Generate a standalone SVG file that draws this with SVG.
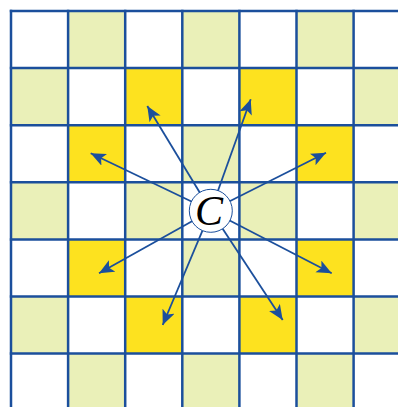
<svg xmlns="http://www.w3.org/2000/svg" width="398" height="407" viewBox="0 0 398 407">
<style>
.w{fill:#ffffff}
.g{fill:#eaf0b8}
.y{fill:#fde21f}
.grid line{stroke:#1b4f9c;stroke-width:2.5}
.arr{stroke:#1b4f9c;stroke-width:1.8;fill:none;marker-end:url(#ah)}
.ctext{font-family:"Liberation Serif",serif;font-style:italic;font-size:42px;fill:#000}
</style>
<defs>
<marker id="ah" markerUnits="userSpaceOnUse" markerWidth="18" markerHeight="14" refX="15" refY="6.5" orient="auto">
<path d="M0,0 L15,6.5 L0,13 L3.5,6.5 z" fill="#1b4f9c"/>
</marker>
</defs>
<rect width="398" height="407" fill="#ffffff"/>
<g id="cells">
<rect class="g" x="68.1" y="11" width="57.1" height="57.1"/>
<rect class="g" x="182.3" y="11" width="57.1" height="57.1"/>
<rect class="g" x="296.5" y="11" width="57.1" height="57.1"/>
<rect class="g" x="11" y="68.1" width="57.1" height="57.1"/>
<rect class="g" x="353.6" y="68.1" width="57.1" height="57.1"/>
<rect class="g" x="182.3" y="125.2" width="57.1" height="57.1"/>
<rect class="g" x="11" y="182.3" width="57.1" height="57.1"/>
<rect class="g" x="125.2" y="182.3" width="57.1" height="57.1"/>
<rect class="g" x="239.4" y="182.3" width="57.1" height="57.1"/>
<rect class="g" x="353.6" y="182.3" width="57.1" height="57.1"/>
<rect class="g" x="182.3" y="239.4" width="57.1" height="57.1"/>
<rect class="g" x="11" y="296.5" width="57.1" height="57.1"/>
<rect class="g" x="353.6" y="296.5" width="57.1" height="57.1"/>
<rect class="g" x="68.1" y="353.6" width="57.1" height="57.1"/>
<rect class="g" x="182.3" y="353.6" width="57.1" height="57.1"/>
<rect class="g" x="296.5" y="353.6" width="57.1" height="57.1"/>
</g>
<g id="knight-squares">
<rect id="k1" class="y" x="125.2" y="68.1" width="57.1" height="57.1"/>
<rect id="k2" class="y" x="239.4" y="68.1" width="57.1" height="57.1"/>
<rect id="k3" class="y" x="68.1" y="125.2" width="57.1" height="57.1"/>
<rect id="k4" class="y" x="296.5" y="125.2" width="57.1" height="57.1"/>
<rect id="k5" class="y" x="68.1" y="239.4" width="57.1" height="57.1"/>
<rect id="k6" class="y" x="296.5" y="239.4" width="57.1" height="57.1"/>
<rect id="k7" class="y" x="125.2" y="296.5" width="57.1" height="57.1"/>
<rect id="k8" class="y" x="239.4" y="296.5" width="57.1" height="57.1"/>
</g>
<g class="grid">
<line x1="11" y1="9.8" x2="11" y2="407"/>
<line x1="68.1" y1="9.8" x2="68.1" y2="407"/>
<line x1="125.2" y1="9.8" x2="125.2" y2="407"/>
<line x1="182.3" y1="9.8" x2="182.3" y2="407"/>
<line x1="239.4" y1="9.8" x2="239.4" y2="407"/>
<line x1="296.5" y1="9.8" x2="296.5" y2="407"/>
<line x1="353.6" y1="9.8" x2="353.6" y2="407"/>
<line x1="9.8" y1="11" x2="398" y2="11"/>
<line x1="9.8" y1="68.1" x2="398" y2="68.1"/>
<line x1="9.8" y1="125.2" x2="398" y2="125.2"/>
<line x1="9.8" y1="182.3" x2="398" y2="182.3"/>
<line x1="9.8" y1="239.4" x2="398" y2="239.4"/>
<line x1="9.8" y1="296.5" x2="398" y2="296.5"/>
<line x1="9.8" y1="353.6" x2="398" y2="353.6"/>
</g>
<g id="connectors">
<line class="arr" x1="210.8" y1="210.8" x2="147.3" y2="106"/>
<line class="arr" x1="210.8" y1="210.8" x2="250.7" y2="99.3"/>
<line class="arr" x1="210.8" y1="210.8" x2="90.7" y2="153.3"/>
<line class="arr" x1="210.8" y1="210.8" x2="326" y2="152.7"/>
<line class="arr" x1="210.8" y1="210.8" x2="99" y2="273.3"/>
<line class="arr" x1="210.8" y1="210.8" x2="331.7" y2="273.3"/>
<line class="arr" x1="210.8" y1="210.8" x2="162.7" y2="325"/>
<line class="arr" x1="210.8" y1="210.8" x2="282.7" y2="320"/>
</g>
<g id="center">
<circle cx="210.8" cy="210.8" r="21.5" fill="#ffffff" stroke="#1b4f9c" stroke-width="1"/>
<text class="ctext" x="209" y="225" text-anchor="middle">C</text>
</g>
</svg>
